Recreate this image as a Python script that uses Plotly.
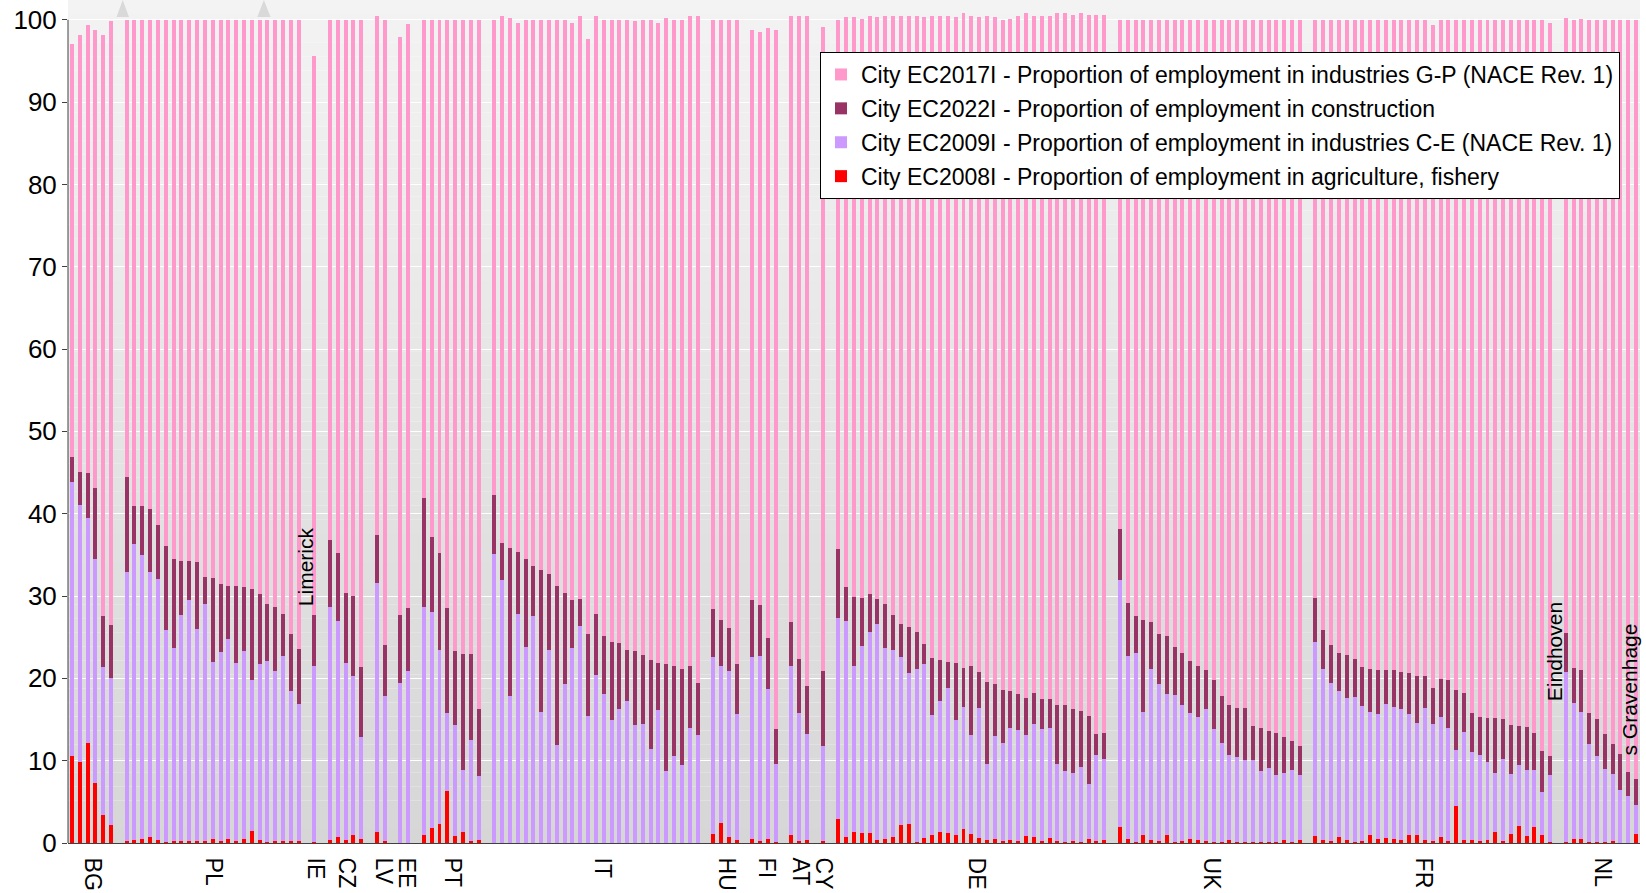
import plotly.graph_objects as go

countries = ["BG", "PL", "IE", "CZ", "LV", "EE", "PT", "IT", "HU", "FI", "AT", "CY", "DE", "UK", "FR", "NL"]
counts = [6, 23, 1, 5, 2, 2, 8, 27, 4, 4, 3, 1, 35, 24, 31, 10]

# City EC2008I - agriculture, fishery
agri = [
    10.6, 9.8, 12.1, 7.3, 3.4, 2.2,
    0.3, 0.4, 0.5, 0.7, 0.4, 0.1, 0.2, 0.2, 0.2, 0.2, 0.3, 0.5, 0.3, 0.5, 0.3, 0.5, 1.5, 0.4, 0.1, 0.3, 0.3, 0.3, 0.3,
    0.1,
    0.4, 0.7, 0.4, 1.0, 0.5,
    1.3, 0.3,
    0.0, 0.0,
    1.0, 1.8, 2.3, 6.3, 0.9, 1.3, 0.3, 0.4,
    0, 0, 0, 0, 0, 0, 0, 0, 0, 0, 0, 0, 0, 0, 0, 0, 0, 0, 0, 0, 0, 0, 0, 0, 0, 0, 0,
    1.1, 2.4, 0.7, 0.4,
    0.5, 0.3, 0.5, 0.1,
    1.0, 0.3, 0.4,
    0.3,
    2.9, 0.7, 1.3, 1.2, 1.2, 0.4, 0.5, 0.7, 2.2, 2.3, 0.1, 0.6, 1.0, 1.3, 1.2, 1.0, 1.7, 1.1, 0.6, 0.4,
    0.5, 0.3, 0.4, 0.3, 0.9, 0.7, 0.3, 0.6, 0.3, 0.1, 0.3, 0.1, 0.5, 0.3, 0.4,
    1.9, 0.5, 0.1, 1.0, 0.4, 0.3, 1.0, 0.1, 0.3, 0.5, 0.4, 0.3, 0.1, 0.1, 0.4, 0.1, 0.1, 0.1, 0.1, 0.1,
    0.1, 0.4, 0.1, 0.4,
    0.9, 0.4, 0.3, 0.7, 0.4, 0.1, 0.3, 1.0, 0.5, 0.6, 0.5, 0.4, 1.0, 1.0, 0.4, 0.3, 0.7, 0.3, 4.5, 0.4,
    0.4, 0.3, 0.4, 1.3, 0.3, 1.1, 2.1, 0.9, 1.9, 1.0, 0.1,
    0.1, 0.5, 0.5, 0.1, 0.1, 0.1, 0.3, 0.0, 0.0, 1.1,
]

# City EC2009I - industries C-E
ind_ce = [
    33.3, 31.3, 27.4, 27.2, 18.0, 17.9,
    32.6, 35.9, 34.5, 32.2, 31.7, 25.8, 23.5, 27.5, 29.3, 25.8, 28.7, 21.5, 22.9, 24.3, 21.6, 22.8, 18.3, 21.3, 22.0, 20.6, 22.4, 18.2, 16.6,
    21.4,
    28.3, 26.3, 21.5, 19.3, 12.4,
    30.3, 17.6,
    19.4, 20.9,
    27.7, 26.3, 21.2, 9.5, 13.4, 7.6, 12.2, 7.7,
    35.1, 32.0, 17.9, 27.8, 23.8, 27.6, 15.9, 23.5, 11.9, 19.3, 23.7, 26.4, 15.4, 20.4, 18.1, 14.9, 16.3, 17.3, 14.3, 14.5,
    11.4, 16.2, 8.8, 10.6, 9.5, 14.0, 13.1,
    21.5, 19.1, 20.2, 15.3,
    22.1, 22.4, 18.2, 9.5,
    20.5, 15.5, 12.8,
    11.5,
    24.4, 26.3, 20.2, 22.7, 24.4, 26.2, 23.2, 22.8, 20.4, 18.4, 21.0, 21.1, 14.6, 16.0, 17.6, 13.9, 14.8, 12.0, 15.8, 9.2,
    12.5, 11.9, 13.6, 13.4, 12.2, 13.8, 13.6, 13.4, 9.3, 8.7, 8.2, 9.1, 6.7, 10.4, 9.8,
    30.1, 22.2, 23.0, 14.9, 20.7, 19.0, 17.1, 17.9, 16.5, 15.3, 14.9, 16.0, 13.8, 12.1, 10.3, 10.4, 10.0, 10.0, 8.7, 9.0,
    8.2, 8.1, 8.8, 7.9,
    23.5, 20.7, 19.1, 17.8, 17.2, 17.6, 16.3, 14.9, 15.2, 16.3, 16.0, 15.9, 14.7, 13.6, 16.0, 14.2, 14.6, 13.7, 6.8, 13.1,
    10.7, 10.4, 9.4, 7.2, 9.9, 7.3, 7.4, 8.0, 7.0, 5.2, 8.2,
    20.7, 16.5, 15.4, 11.9, 10.5, 8.9, 8.1, 6.4, 5.7, 3.5,
]

# City EC2022I - construction
constr = [
    3.0, 4.0, 5.5, 8.6, 6.2, 6.4,
    11.6, 4.6, 5.9, 7.7, 6.5, 10.2, 10.8, 6.6, 4.8, 8.1, 3.3, 10.2, 8.3, 6.4, 9.3, 7.8, 11.1, 8.6, 6.9, 7.8, 5.1, 6.9, 6.7,
    6.2,
    8.1, 8.2, 8.5, 9.7, 8.5,
    5.8, 6.2,
    8.3, 7.7,
    13.2, 9.1, 11.7, 12.8, 9.0, 14.1, 10.5, 8.2,
    7.2, 4.5, 17.9, 7.6, 10.7, 6.1, 17.3, 9.2, 19.3, 11.1, 5.8, 3.2, 10.0, 7.4, 7.1, 9.5, 8.0, 6.2, 9.0, 8.3,
    10.8, 5.7, 12.9, 10.9, 11.6, 7.5, 6.3,
    5.8, 5.6, 5.2, 6.0,
    6.9, 6.2, 6.2, 4.3,
    5.4, 6.6, 5.9,
    9.1,
    8.4, 4.1, 8.4, 5.9, 4.7, 3.0, 5.3, 4.2, 4.0, 5.5, 4.5, 2.5, 6.9, 4.9, 3.2, 7.0, 4.8, 8.4, 4.4, 10.0,
    6.3, 6.4, 4.5, 4.4, 4.5, 3.7, 3.6, 3.5, 7.2, 8.0, 7.8, 6.8, 8.2, 2.5, 3.2,
    6.2, 6.5, 4.5, 11.2, 5.8, 6.1, 7.1, 5.8, 6.3, 6.3, 6.2, 4.7, 5.9, 5.7, 6.1, 5.9, 6.3, 4.1, 5.2, 4.5,
    5.1, 4.4, 3.5, 3.5,
    5.4, 4.8, 4.7, 4.6, 5.2, 4.7, 4.8, 5.2, 5.3, 4.1, 4.5, 4.5, 5.0, 5.7, 3.9, 4.3, 4.6, 5.8, 7.3, 4.7,
    4.7, 4.6, 5.4, 6.7, 4.9, 5.9, 4.7, 5.2, 4.5, 5.0, 2.3,
    4.7, 4.3, 5.1, 3.8, 4.5, 4.2, 3.6, 4.4, 2.9, 3.2,
]

# City EC2017I - industries G-P
ind_gp = [
    50.2, 53.0, 54.4, 55.6, 70.6, 73.3,
    55.5, 59.1, 59.1, 59.4, 61.4, 63.9, 65.5, 65.7, 65.7, 65.9, 67.7, 67.8, 68.5, 68.8, 68.8, 68.9, 69.1, 69.7, 71.0, 71.3, 72.2, 74.6, 76.4,
    67.9,
    63.2, 64.8, 69.6, 70.0, 78.6,
    63.0, 75.9,
    70.2, 70.9,
    58.1, 62.8, 64.8, 71.4, 76.7, 77.0, 77.0, 83.7,
    57.7, 64.0, 64.4, 64.2, 65.5, 66.3, 66.8, 67.3, 68.8, 69.6, 70.1, 70.9, 72.3, 72.6, 74.8, 75.6, 75.7, 76.5, 76.5, 77.2,
    77.8, 77.7, 78.5, 78.5, 78.9, 79.0, 81.0,
    71.6, 72.9, 73.9, 78.3,
    69.2, 69.6, 74.1, 84.8,
    73.6, 78.0, 81.4,
    78.2,
    64.3, 69.2, 70.4, 70.3, 70.1, 70.7, 71.4, 72.7, 73.9, 74.3, 74.8, 76.1, 78.0, 78.2, 78.5, 78.4, 79.5, 78.9, 79.5, 80.9,
    81.0, 81.4, 81.6, 82.3, 83.2, 82.2, 83.0, 83.0, 84.0, 84.0, 84.3, 84.8, 85.2, 87.4, 87.2,
    61.8, 70.8, 72.4, 72.9, 73.1, 74.6, 74.8, 76.2, 76.9, 77.9, 78.5, 79.0, 80.2, 82.1, 83.2, 83.6, 83.6, 85.8, 86.0, 86.4,
    86.6, 87.1, 87.6, 88.2,
    70.2, 74.1, 75.9, 76.9, 77.2, 77.6, 78.6, 78.9, 79.0, 79.0, 79.0, 79.2, 79.3, 79.7, 79.7, 80.6, 80.1, 80.2, 81.4, 81.8,
    84.2, 84.7, 84.8, 84.8, 84.9, 85.7, 85.8, 85.9, 86.6, 88.8, 89.0,
    74.7, 78.7, 79.1, 84.2, 84.9, 86.8, 88.0, 89.2, 91.4, 92.2,
]

city_notes = ["Limerick", "Eindhoven", "s Gravenhage"]

# --- x slots: one empty slot between countries
xs = []
centers = []
pos = 0
for n in counts:
    grp = list(range(pos, pos + n))
    xs.extend(grp)
    centers.append((grp[0] + grp[-1]) / 2)
    pos += n + 1
last_slot = xs[-1]

# small nudges of the country labels as placed in the original picture
label_shift = {"IT": 0.8, "DE": 0.7, "FR": -1.2, "LV": 0.3, "EE": 0.3, "PT": 0.2, "FI": 0.3}
tick_pos = [c + label_shift.get(cc, 0.15) for c, cc in zip(centers, countries)]

FONT = "Liberation Sans, Arial, sans-serif"
fig = go.Figure()
series = [
    ("City EC2008I - Proportion of employment in agriculture, fishery", agri, "#FF0000", 4),
    ("City EC2009I - Proportion of employment in industries C-E (NACE Rev. 1)", ind_ce, "#CC99FF", 3),
    ("City EC2022I - Proportion of employment in construction", constr, "#993366", 2),
    ("City EC2017I - Proportion of employment in industries G-P (NACE Rev. 1)", ind_gp, "#FF99CC", 1),
]
for i, (name, vals, col, rank) in enumerate(series):
    fig.add_trace(go.Bar(x=xs, y=vals, name=name, marker=dict(color=col, line=dict(width=0)),
                         legendgroup="g%d" % i, legendrank=rank, hoverinfo="skip"))

# gradient plot background
shapes = []
steps = 60
top_c = (0xF3, 0xF3, 0xF3)
bot_c = (0xD6, 0xD6, 0xD6)
for k in range(steps):
    t = (k + 0.5) / steps
    c = tuple(int(round(bot_c[j] + (top_c[j] - bot_c[j]) * t)) for j in range(3))
    shapes.append(dict(type="rect", xref="paper", yref="paper", x0=0, x1=1,
                       y0=k / steps, y1=(k + 1) / steps, fillcolor="rgb(%d,%d,%d)" % c,
                       line=dict(width=0), layer="below"))
# value axis line from 0 to 100
shapes.append(dict(type="line", xref="paper", yref="y", x0=0, x1=0, y0=0, y1=100,
                   line=dict(color="#404040", width=1)))
# small grey markers at the top edge
for cx, hw in [(6.5, 0.8), (24.55, 0.85)]:
    shapes.append(dict(type="path", xref="x", yref="y",
                       path="M %f,100.35 L %f,102.4 L %f,100.35 Z" % (cx - hw, cx, cx + hw),
                       fillcolor="#D9D9D9", line=dict(width=0), layer="above"))

annotations = [
    dict(x=29.9, y=33.6, text=city_notes[0]),
    dict(x=189.5, y=23.3, text=city_notes[1]),
    dict(x=199.15, y=18.7, text=city_notes[2]),
]
for a in annotations:
    a.update(xref="x", yref="y", showarrow=False, textangle=-90,
             font=dict(family=FONT, size=21, color="black"), xanchor="center", yanchor="middle")

fig.update_layout(
    width=1646, height=893,
    margin=dict(l=68, r=6, t=0, b=50, pad=0, autoexpand=False),
    paper_bgcolor="white", plot_bgcolor="rgba(0,0,0,0)",
    barmode="stack", bargap=0.49,
    font=dict(family=FONT, size=20, color="black"),
    shapes=shapes, annotations=annotations,
    showlegend=True,
    legend=dict(x=(1620 - 68) / 1572, xanchor="right", y=1 - 52 / 843, yanchor="top",
                bgcolor="white", bordercolor="black", borderwidth=1,
                traceorder="grouped", tracegroupgap=1,
                font=dict(family=FONT, size=23, color="black")),
    xaxis=dict(range=[-0.5, last_slot + 0.5], tickmode="array", tickvals=tick_pos, ticktext=countries,
               tickangle=90, ticks="", showgrid=False, zeroline=False, automargin=False,
               showline=True, linecolor="#404040", linewidth=1,
               ticklabelstandoff=9, tickfont=dict(family=FONT, size=23, color="black")),
    yaxis=dict(range=[0, 102.4], tickmode="array", tickvals=list(range(0, 101, 10)),
               showgrid=True, gridcolor="white", gridwidth=1, zeroline=False, showline=False,
               ticks="outside", ticklen=5, tickcolor="#404040", automargin=False,
               tickfont=dict(family=FONT, size=26, color="black")),
)

fig.write_html("out.html", config={"displayModeBar": False, "staticPlot": True},
               post_script="document.body.style.margin='0px';document.body.style.overflow='hidden';")
